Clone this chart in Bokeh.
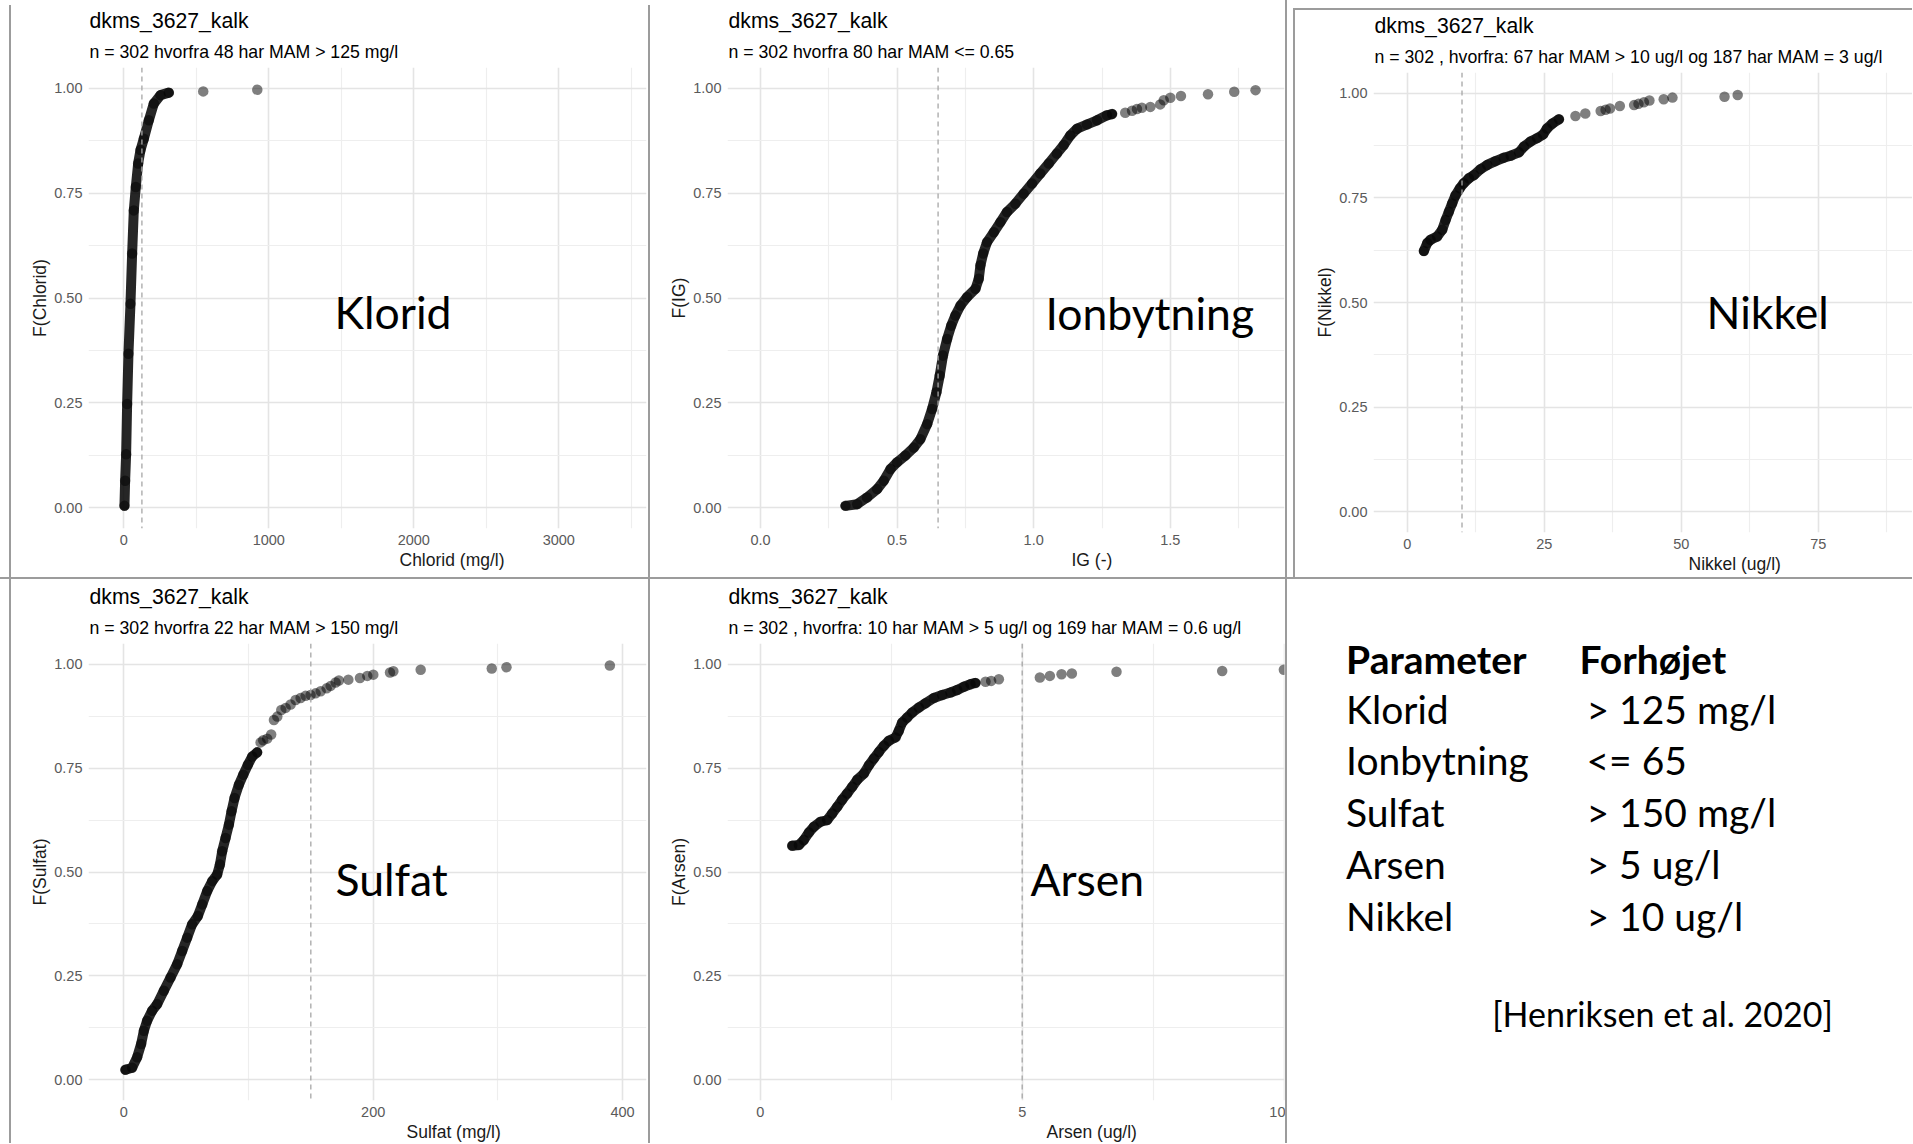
from bokeh.plotting import figure
from bokeh.models import Range1d, FixedTicker, NumeralTickFormatter, Span, Label, Div, Title
from bokeh.layouts import row, column
from bokeh.embed import file_html
from bokeh.resources import INLINE
from bokeh.core.properties import value

SANS = "Liberation Sans"
WORD_FONT = "Lato"

TITLE = "dkms_3627_kalk"
Y_TICKS = [0.0, 0.25, 0.5, 0.75, 1.0]
Y_MINOR = [0.125, 0.375, 0.625, 0.875]

# ---------------- Klorid ----------------
klorid_sub = "n = 302 hvorfra 48 har MAM > 125 mg/l"
klorid_limit = 125
klorid_x = [4.6, 9.2, 16.1, 23.0, 32.2, 46.0, 57.5, 69.0, 82.9, 99.0, 115.1, 138.1, 172.6, 207.1, 253.2, 310.7]
klorid_f = [0.004, 0.064, 0.127, 0.247, 0.367, 0.486, 0.606, 0.709, 0.765, 0.821, 0.853, 0.880, 0.924, 0.964, 0.984, 0.990]
klorid_tail_x = [547.8, 920.6]
klorid_tail_f = [0.993, 0.997]
klorid_xticks = [0, 1000, 2000, 3000]
klorid_xminor = [-500, 500, 1500, 2500, 3500]

# ---------------- Ionbytning (IG) ----------------
ig_sub = "n = 302 hvorfra 80 har MAM <= 0.65"
ig_limit = 0.65
ig_x = [0.311, 0.354, 0.390, 0.427, 0.451, 0.476, 0.500, 0.530, 0.561, 0.585, 0.610, 0.628, 0.644, 0.656,
        0.668, 0.683, 0.698, 0.713, 0.732, 0.756, 0.787, 0.799, 0.805, 0.815, 0.829, 0.854, 0.878, 0.902,
        0.933, 0.963, 0.994, 1.024, 1.055, 1.085, 1.110, 1.134, 1.159, 1.195, 1.232, 1.268, 1.287]
ig_f = [0.004, 0.008, 0.024, 0.044, 0.064, 0.092, 0.108, 0.124, 0.143, 0.163, 0.199, 0.235, 0.275, 0.315,
        0.363, 0.402, 0.434, 0.458, 0.482, 0.502, 0.522, 0.546, 0.578, 0.606, 0.633, 0.657, 0.681, 0.705,
        0.725, 0.749, 0.773, 0.797, 0.821, 0.845, 0.865, 0.888, 0.904, 0.914, 0.924, 0.936, 0.939]
ig_tail_x = [1.335, 1.360, 1.378, 1.396, 1.427, 1.463, 1.476, 1.500, 1.539, 1.638, 1.734, 1.812]
ig_tail_f = [0.942, 0.947, 0.951, 0.954, 0.956, 0.962, 0.972, 0.978, 0.982, 0.986, 0.992, 0.996]
ig_xticks = [0.0, 0.5, 1.0, 1.5]
ig_xminor = [0.25, 0.75, 1.25, 1.75]

# ---------------- Nikkel ----------------
nikkel_sub = "n = 302 , hvorfra: 67 har MAM > 10 ug/l og 187 har MAM = 3 ug/l"
nikkel_limit = 10
nikkel_x = [3.04, 3.65, 4.26, 5.47, 6.39, 7.0, 7.6, 8.2, 8.8, 9.6, 10.3, 11.25, 12.2, 13.4, 14.6, 16.1,
            17.6, 18.9, 20.4, 21.3, 22.5, 23.7, 24.8, 25.5, 26.5, 27.7]
nikkel_f = [0.623, 0.642, 0.650, 0.658, 0.674, 0.697, 0.717, 0.737, 0.756, 0.773, 0.785, 0.797, 0.805,
            0.819, 0.829, 0.838, 0.846, 0.851, 0.859, 0.873, 0.885, 0.893, 0.902, 0.916, 0.928, 0.938]
nikkel_tail_x = [30.7, 32.5, 35.3, 36.2, 37.0, 38.8, 41.4, 42.2, 43.2, 44.2, 46.8, 48.4, 57.9, 60.3]
nikkel_tail_f = [0.946, 0.952, 0.958, 0.961, 0.964, 0.970, 0.972, 0.975, 0.979, 0.983, 0.986, 0.990, 0.992, 0.996]
nikkel_xticks = [0, 25, 50, 75]
nikkel_xminor = [12.5, 37.5, 62.5, 87.5]

# ---------------- Sulfat ----------------
sulfat_sub = "n = 302 hvorfra 22 har MAM > 150 mg/l"
sulfat_limit = 150
sulfat_x = [1.3, 6.7, 10.7, 13.9, 16.1, 18.7, 22.7, 26.8, 32.1, 37.5, 42.8, 46.8, 50.8, 54.8, 59.4, 62.9,
            66.9, 70.9, 74.9, 77.1, 78.9, 81.6, 84.3, 86.4, 88.8, 92.3, 95.8, 99.5, 103.0, 107.0]
sulfat_f = [0.024, 0.029, 0.054, 0.086, 0.118, 0.142, 0.166, 0.182, 0.214, 0.246, 0.278, 0.310, 0.342,
            0.374, 0.394, 0.422, 0.454, 0.478, 0.494, 0.518, 0.550, 0.582, 0.614, 0.646, 0.678, 0.710,
            0.734, 0.758, 0.778, 0.788]
sulfat_tail_x = [109.7, 111.8, 115.0, 118.2, 120.4, 123.1, 126.3, 129.8, 133.8, 137.8, 141.8, 145.8, 149.8,
                 153.8, 157.9, 162.7, 165.9, 169.9, 172.5, 180.1, 189.4, 195.3, 200.1, 213.5, 216.2, 238.1,
                 295.1, 306.9, 389.8]
sulfat_tail_f = [0.812, 0.817, 0.821, 0.831, 0.866, 0.874, 0.890, 0.895, 0.903, 0.914, 0.919, 0.924, 0.926,
                 0.930, 0.935, 0.942, 0.948, 0.956, 0.961, 0.963, 0.967, 0.972, 0.975, 0.980, 0.983, 0.987,
                 0.990, 0.993, 0.997]
sulfat_xticks = [0, 200, 400]
sulfat_xminor = [100, 300]

# ---------------- Arsen ----------------
arsen_sub = "n = 302 , hvorfra: 10 har MAM > 5 ug/l og 169 har MAM = 0.6 ug/l"
arsen_limit = 5
arsen_x = [0.611, 0.738, 0.833, 0.929, 1.024, 1.151, 1.279, 1.374, 1.470, 1.565, 1.660, 1.756, 1.851,
           1.978, 2.074, 2.169, 2.265, 2.360, 2.455, 2.583, 2.646, 2.710, 2.805, 2.901, 3.028, 3.155,
           3.314, 3.473, 3.632, 3.760, 3.887, 4.014, 4.109]
arsen_f = [0.563, 0.565, 0.577, 0.595, 0.609, 0.621, 0.625, 0.641, 0.657, 0.674, 0.689, 0.705, 0.722,
           0.737, 0.757, 0.773, 0.789, 0.804, 0.816, 0.824, 0.840, 0.860, 0.872, 0.884, 0.896, 0.906,
           0.919, 0.926, 0.932, 0.938, 0.946, 0.952, 0.955]
arsen_tail_x = [4.300, 4.408, 4.555, 5.337, 5.528, 5.751, 5.948, 6.800, 8.817, 9.994]
arsen_tail_f = [0.958, 0.960, 0.964, 0.968, 0.972, 0.976, 0.978, 0.982, 0.984, 0.987]
arsen_xticks = [0, 5, 10]
arsen_xminor = [2.5, 7.5]

# ---------------- Table ----------------
table_header = ["Parameter", "Forhøjet"]
table_params = ["Klorid", "Ionbytning", "Sulfat", "Arsen", "Nikkel"]
table_limits = ["> 125 mg/l", "<= 65", "> 150 mg/l", "> 5 ug/l", "> 10 ug/l"]
table_source = "[Henriksen et al. 2020]"

BORDER = "#9c9c9c"


def vline(h):
    return Div(text="", width=2, height=h, margin=0, styles={"background-color": BORDER})


def hline(w):
    return Div(text="", width=w, height=2, margin=0, styles={"background-color": BORDER})


def gap(w, h):
    return Div(text="", width=w, height=h, margin=0)


def panel(width, height, borders, xr, xticks, xminor, xfmt, xlabel, xlabel_left, ylabel, subtitle,
          limit, word, word_pos, dense_x, dense_f, tail_x, tail_f):
    bl, br, bt, bb = borders
    p = figure(width=width, height=height, x_range=Range1d(*xr), y_range=Range1d(-0.05, 1.05),
               output_backend="svg", toolbar_location=None, title=None,
               min_border_left=bl, min_border_right=br, min_border_top=bt, min_border_bottom=bb)
    p.outline_line_color = None
    p.background_fill_color = "white"
    p.border_fill_color = "white"
    xt = FixedTicker(ticks=xticks, minor_ticks=xminor)
    yt = FixedTicker(ticks=Y_TICKS, minor_ticks=Y_MINOR)
    p.xaxis.ticker = xt
    p.yaxis.ticker = yt
    p.xgrid.ticker = xt
    p.ygrid.ticker = yt
    for g in (p.xgrid, p.ygrid):
        g.grid_line_color = "#e4e4e4"
        g.grid_line_width = 1.6
        g.minor_grid_line_color = "#eeeeee"
        g.minor_grid_line_width = 1.2
    for ax in (p.xaxis, p.yaxis):
        ax.axis_line_color = None
        ax.major_tick_line_color = None
        ax.minor_tick_line_color = None
        ax.major_tick_out = 0
        ax.major_tick_in = 0
        ax.minor_tick_out = 0
        ax.minor_tick_in = 0
        ax.major_label_text_font = SANS
        ax.major_label_text_font_size = "14.5px"
        ax.major_label_text_color = "#5a5a5a"
        ax.major_label_standoff = 6
    p.xaxis.formatter = NumeralTickFormatter(format=xfmt)
    p.yaxis.formatter = NumeralTickFormatter(format="0.00")
    p.yaxis.axis_label = ylabel
    p.yaxis.axis_label_text_font = SANS
    p.yaxis.axis_label_text_font_size = "17.5px"
    p.yaxis.axis_label_text_font_style = "normal"
    p.yaxis.axis_label_text_color = "#1a1a1a"
    p.yaxis.axis_label_standoff = 1

    p.add_layout(Span(location=limit, dimension="height", line_color="#a6a6a6",
                      line_dash="5 4", line_width=1.3))

    p.line(dense_x, dense_f, line_color="black", line_alpha=0.85, line_width=10,
           line_join="round", line_cap="round")
    p.scatter(dense_x + tail_x, dense_f + tail_f, size=10.5, fill_color="black",
              fill_alpha=0.5, line_color=None)

    p.add_layout(Title(text=subtitle, align="left", offset=1, standoff=11.5, text_font=SANS,
                       text_font_size="17.7px", text_font_style="normal", text_color="black"), "above")
    p.add_layout(Title(text=TITLE, align="left", offset=1, standoff=3, text_font=SANS,
                       text_font_size="21.2px", text_font_style="normal", text_color="black"), "above")
    p.add_layout(Title(text=xlabel, align="left", offset=xlabel_left, standoff=1, text_font=SANS,
                       text_font_size="17.5px", text_font_style="normal", text_color="#1a1a1a"), "below")
    p.add_layout(Label(x=word_pos[0], y=word_pos[1], x_units="screen", y_units="screen", text=word,
                       text_font=WORD_FONT, text_font_size="44.5px", text_color="black",
                       text_baseline="middle"))
    return p


p1 = panel(637, 577, (77, 2, 67, 49), (-243.4, 3604.8), klorid_xticks, klorid_xminor, "0",
           "Chlorid (mg/l)", 311, "F(Chlorid)", klorid_sub, klorid_limit, "Klorid", (246, 217),
           klorid_x, klorid_f, klorid_tail_x, klorid_tail_f)
p2 = panel(635, 577, (77, 1, 67, 49), (-0.1208, 1.918), ig_xticks, ig_xminor, "0.0",
           "IG (-)", 344, "F(IG)", ig_sub, ig_limit, "Ionbytning", (318, 216),
           ig_x, ig_f, ig_tail_x, ig_tail_f)
p3 = panel(617, 567, (78, 0, 62, 45), (-6.15, 92.2), nikkel_xticks, nikkel_xminor, "0",
           "Nikkel (ug/l)", 315, "F(Nikkel)", nikkel_sub, nikkel_limit, "Nikkel", (333, 221),
           nikkel_x, nikkel_f, nikkel_tail_x, nikkel_tail_f)
p4 = panel(637, 564, (77, 2, 64, 43), (-28.3, 419.2), sulfat_xticks, sulfat_xminor, "0",
           "Sulfat (mg/l)", 318, "F(Sulfat)", sulfat_sub, sulfat_limit, "Sulfat", (247, 222),
           sulfat_x, sulfat_f, sulfat_tail_x, sulfat_tail_f)
p5 = panel(635, 564, (77, 1, 64, 43), (-0.624, 10.006), arsen_xticks, arsen_xminor, "0",
           "Arsen (ug/l)", 319, "F(Arsen)", arsen_sub, arsen_limit, "Arsen", (303, 222),
           arsen_x, arsen_f, arsen_tail_x, arsen_tail_f)

# table panel
TW, TH = 625, 564
p6 = figure(width=TW, height=TH, x_range=Range1d(0, TW), y_range=Range1d(TH, 0),
            x_axis_type=None, y_axis_type=None, output_backend="svg", toolbar_location=None,
            title=None, min_border=0)
p6.outline_line_color = None
p6.grid.visible = False
p6.background_fill_color = "white"
p6.border_fill_color = "white"
col1_x, col2_x, head2_x = 58.6, 299, 292
head_y, first_row_y, row_step = 79, 129, 51.8
p6.text(x=[col1_x, head2_x], y=[head_y, head_y], text=table_header, text_font=value(WORD_FONT),
        text_font_style="bold", text_font_size="39px", text_color="black", text_baseline="middle")
row_y = [first_row_y + row_step * i for i in range(len(table_params))]
p6.text(x=[col1_x] * len(table_params), y=row_y, text=table_params, text_font=value(WORD_FONT),
        text_font_size="39px", text_color="black", text_baseline="middle")
p6.text(x=[col2_x] * len(table_limits), y=row_y, text=table_limits, text_font=value(WORD_FONT),
        text_font_size="39px", text_color="black", text_baseline="middle")
p6.text(x=[375], y=[434], text=[table_source], text_font=value(WORD_FONT), text_font_size="34px",
        text_color="black", text_align="center", text_baseline="middle")

p3block = column(gap(619, 8), hline(619), row(vline(567), p3, spacing=0), spacing=0)
left1 = column(gap(2, 5), vline(572), spacing=0)
left2 = column(gap(2, 5), vline(572), spacing=0)
row1 = row(gap(9, 577), left1, p1, left2, p2, vline(577), gap(6, 577), p3block, spacing=0)
row2 = row(gap(9, 564), vline(564), p4, vline(564), p5, vline(564), column(p6), spacing=0)
layout = column(row1, hline(1912), row2, spacing=0)

open("out.html", "w").write(file_html(layout, INLINE))
